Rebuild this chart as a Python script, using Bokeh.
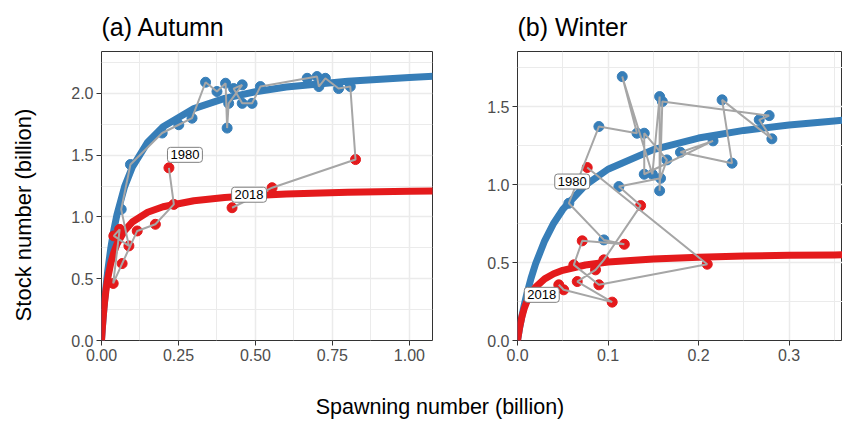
import numpy as np
from bokeh.plotting import figure
from bokeh.models import Range1d, FixedTicker, Label, Div, ColumnDataSource
from bokeh.layouts import row, column
from bokeh.embed import file_html
from bokeh.resources import INLINE

FONT = "Liberation Sans"
BLUE = "#377EB8"
RED = "#E41A1C"
PATH = "#A6A6A6"
REGIME_COLORS = {1: RED, 2: BLUE}

# ---------------- data: (a) Autumn ----------------
autumn_S = [0.219, 0.235, 0.175, 0.116, 0.067, 0.038, 0.059, 0.040, 0.089,
            0.064, 0.094, 0.197, 0.251, 0.294, 0.338, 0.375, 0.403, 0.408,
            0.413, 0.457, 0.429, 0.457, 0.489, 0.516, 0.668, 0.700, 0.706,
            0.727, 0.770, 0.808, 0.825, 0.554, 0.424]
autumn_R = [1.398, 1.102, 0.941, 0.887, 0.623, 0.462, 0.900, 0.847, 0.766,
            1.062, 1.425, 1.680, 1.747, 1.800, 2.091, 2.016, 2.083, 1.720,
            1.920, 2.070, 2.040, 1.920, 1.920, 2.056, 2.123, 2.137, 2.056,
            2.123, 2.040, 2.056, 1.465, 1.237, 1.075]
autumn_regime = [1] * 9 + [2] * 21 + [1] * 3

autumn_curve_S = [0, 0.0025, 0.005, 0.0075, 0.01, 0.015, 0.02, 0.03, 0.04, 0.05,
                  0.075, 0.1, 0.15, 0.2, 0.3, 0.4, 0.5, 0.6, 0.8, 1.0, 1.1]
autumn_curve_blue = [0, 0.089, 0.171, 0.247, 0.318, 0.446, 0.558, 0.744, 0.894, 1.017,
                     1.246, 1.403, 1.606, 1.731, 1.878, 1.961, 2.014, 2.052, 2.099, 2.130, 2.142]
autumn_curve_red = [0, 0.096, 0.179, 0.250, 0.312, 0.416, 0.499, 0.624, 0.713, 0.779,
                    0.890, 0.959, 1.038, 1.083, 1.132, 1.158, 1.175, 1.186, 1.200, 1.209, 1.212]

# ---------------- data: (b) Winter ----------------
winter_S = [0.077, 0.2096, 0.0899, 0.0622, 0.0715, 0.118,
            0.0954, 0.0567, 0.0899, 0.132, 0.1157, 0.149, 0.157, 0.157, 0.160,
            0.278, 0.267, 0.281, 0.226, 0.237, 0.180, 0.216, 0.140, 0.140,
            0.165, 0.158, 0.112,
            0.136, 0.0954, 0.0862, 0.066, 0.1046, 0.051, 0.0456]
winter_R = [1.109, 0.489, 0.357, 0.485, 0.639, 0.617,
            0.645, 0.880, 1.372, 1.329, 1.692, 1.066, 1.564, 0.960, 1.532,
            1.442, 1.415, 1.293, 1.543, 1.137, 1.207, 1.280, 1.066, 1.329,
            1.158, 1.040, 0.987,
            0.865, 0.517, 0.453, 0.378, 0.246, 0.325, 0.357]
winter_regime = [1] * 6 + [2] * 21 + [1] * 7

winter_curve_S = [0, 0.0025, 0.005, 0.0075, 0.01, 0.015, 0.02, 0.03, 0.04, 0.05,
                  0.075, 0.1, 0.15, 0.2, 0.25, 0.3, 0.35, 0.37]
winter_curve_blue = [0, 0.085, 0.160, 0.229, 0.291, 0.400, 0.492, 0.639, 0.752, 0.840,
                     0.996, 1.098, 1.224, 1.298, 1.347, 1.382, 1.408, 1.417]
winter_curve_red = [0, 0.090, 0.156, 0.206, 0.245, 0.302, 0.342, 0.395, 0.428, 0.450,
                    0.484, 0.503, 0.523, 0.534, 0.541, 0.546, 0.549, 0.550]

first_year, last_year = 1980, 2018

autumn_xticks = [0.0, 0.25, 0.5, 0.75, 1.0]
autumn_xlabels = ["0.00", "0.25", "0.50", "0.75", "1.00"]
autumn_yticks = [0.0, 0.5, 1.0, 1.5, 2.0]
autumn_ylabels = ["0.0", "0.5", "1.0", "1.5", "2.0"]
winter_xticks = [0.0, 0.1, 0.2, 0.3]
winter_xlabels = ["0.0", "0.1", "0.2", "0.3"]
winter_yticks = [0.0, 0.5, 1.0, 1.5]
winter_ylabels = ["0.0", "0.5", "1.0", "1.5"]


def make_panel(title, S, R, regime, cS, cblue, cred, xr, yr,
               xt, xl, xminor, yt, yl, yminor, width, border_left, border_right,
               lab_first, lab_last):
    p = figure(width=width, height=375, output_backend="svg", toolbar_location=None,
               x_range=Range1d(*xr), y_range=Range1d(*yr),
               min_border_left=border_left, min_border_right=border_right,
               min_border_top=50, min_border_bottom=35)
    p.title.text = title
    p.title.text_font = FONT
    p.title.text_font_size = "25px"
    p.title.text_font_style = "normal"
    p.title.text_color = "#000000"
    p.title.align = "left"
    p.title.standoff = 21
    p.outline_line_color = "#333333"
    p.outline_line_width = 1
    p.background_fill_color = "white"
    p.border_fill_color = "white"

    p.xaxis.ticker = FixedTicker(ticks=xt, minor_ticks=xminor)
    p.yaxis.ticker = FixedTicker(ticks=yt, minor_ticks=yminor)
    p.xaxis.major_label_overrides = {t: l for t, l in zip(xt, xl)}
    p.yaxis.major_label_overrides = {t: l for t, l in zip(yt, yl)}
    for ax in (p.xaxis, p.yaxis):
        ax.axis_line_color = None
        ax.major_tick_line_color = "#333333"
        ax.major_tick_in = 0
        ax.major_tick_out = 5
        ax.minor_tick_line_color = None
        ax.major_label_text_font = FONT
        ax.major_label_text_font_size = "16px"
        ax.major_label_text_color = "#4D4D4D"
        ax.major_label_standoff = 3
    for g in (p.xgrid, p.ygrid):
        g.grid_line_color = "#EBEBEB"
        g.grid_line_width = 1.5
        g.minor_grid_line_color = "#EBEBEB"
        g.minor_grid_line_width = 1

    p.line(cS, cblue, color=BLUE, line_width=7)
    p.line(cS, cred, color=RED, line_width=7)
    src = ColumnDataSource(dict(S=S, R=R, c=[REGIME_COLORS[r] for r in regime]))
    p.scatter("S", "R", source=src, size=10, color="c")
    p.line(S, R, color=PATH, line_width=2)

    for (xs, ys, txt, (dx, dy)) in ((S[0], R[0], str(first_year), lab_first),
                                    (S[-1], R[-1], str(last_year), lab_last)):
        p.add_layout(Label(x=xs, y=ys, text=txt, x_offset=dx, y_offset=dy,
                           text_align="center", text_baseline="middle",
                           text_font=FONT, text_font_size="13px", text_color="black",
                           background_fill_color="white", border_line_color="#808080",
                           border_line_width=1, padding=3, border_radius=3))
    return p


pa = make_panel("(a) Autumn", autumn_S, autumn_R, autumn_regime,
                autumn_curve_S, autumn_curve_blue, autumn_curve_red,
                (0, 1.075), (0, 2.34),
                autumn_xticks, autumn_xlabels, [0.125, 0.375, 0.625, 0.875],
                autumn_yticks, autumn_ylabels, [0.25, 0.75, 1.25, 1.75, 2.25],
                430, 61, 38, (16, 13), (17, 13))
pb = make_panel("(b) Winter", winter_S, winter_R, winter_regime,
                winter_curve_S, winter_curve_blue, winter_curve_red,
                (0, 0.359), (0, 1.853),
                winter_xticks, winter_xlabels, [0.05, 0.15, 0.25, 0.35],
                winter_yticks, winter_ylabels, [0.25, 0.75, 1.25, 1.75],
                372, 47, 0, (-15, -14), (-17, -10))

ylab = Div(text='<div style="position:relative;width:40px;height:375px;">'
                '<div style="position:absolute;left:24px;top:215px;'
                'transform:translate(-50%,-50%) rotate(-90deg);white-space:nowrap;'
                'font-family:\'Liberation Sans\',Arial,sans-serif;font-size:22px;'
                'line-height:24px;color:#000;">Stock number (billion)</div></div>',
           width=40, height=375, margin=0)

xlab = Div(text='<div style="font-family:\'Liberation Sans\',Arial,sans-serif;font-size:21.5px;'
                'color:#000;width:842px;text-align:center;position:relative;left:19px;top:20px;'
                'line-height:25px;white-space:nowrap;">Spawning number (billion)</div>',
           width=842, height=48, margin=0)

layout = column(row(ylab, pa, pb), xlab)
open("out.html", "w").write(file_html(layout, INLINE))
